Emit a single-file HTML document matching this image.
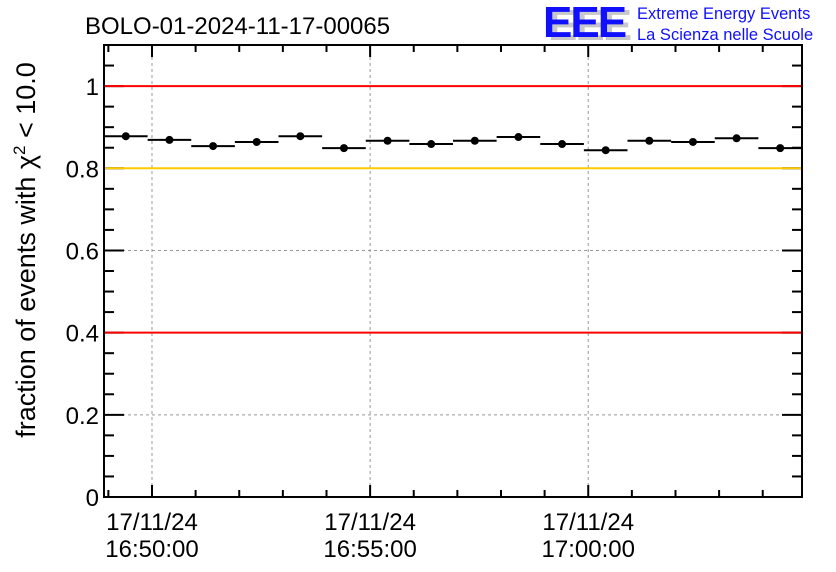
<!DOCTYPE html>
<html><head><meta charset="utf-8"><style>
body{margin:0;background:#fff;}
svg{display:block;font-family:"Liberation Sans",sans-serif;}
</style></head><body>
<svg id="c" width="836" height="572">
<text x="85" y="34" font-size="24">BOLO-01-2024-11-17-00065</text>
<g>
<text x="548" y="40" font-size="44" font-weight="bold" fill="#c8c8c8" letter-spacing="-2">EEE</text>
<text x="543" y="37" font-size="44" font-weight="bold" fill="#1010ff" letter-spacing="-2">EEE</text>
<text x="637" y="19" font-size="16.5" fill="#1010ff">Extreme Energy Events</text>
<text x="637" y="40" font-size="16.5" fill="#1010ff">La Scienza nelle Scuole</text>
</g>
<text transform="translate(35,250) rotate(-90)" text-anchor="middle" font-size="27">fraction of events with χ<tspan dy="-10" font-size="17">2</tspan><tspan dy="10"> &lt; 10.0</tspan></text>
<g id="plot"></g>
</svg>
<script>
const values=[0.878,0.869,0.854,0.864,0.878,0.849,0.867,0.859,0.867,0.876,0.859,0.844,0.867,0.864,0.873,0.849];
const yTicks=[0,0.2,0.4,0.6,0.8,1];
const yTickLabels=["0","0.2","0.4","0.6","0.8","1"];
const xTickMinutes=[1.1,6.1,11.1];
const xTickLabels=[["17/11/24","16:50:00"],["17/11/24","16:55:00"],["17/11/24","17:00:00"]];
const refLines=[1.0,0.8,0.4];
const refColors=["#ff0000","#ffcc00","#ff0000"];

const L=104,R=802,T=45,B=497,YMAX=1.1,XMAX=16;
const sx=m=>L+(R-L)*m/XMAX;
const sy=v=>B-(B-T)*v/YMAX;
const NS="http://www.w3.org/2000/svg";
const g=document.getElementById('plot');
function mk(t,a,p){const e=document.createElementNS(NS,t);for(const k in a)e.setAttribute(k,a[k]);(p||g).appendChild(e);return e;}

xTickMinutes.forEach(m=>{const e=mk('line',{x1:sx(m),x2:sx(m),y1:T,y2:B,stroke:'#999','stroke-dasharray':'3,3'});

});
yTicks.slice(1,5).forEach(v=>{const e=mk('line',{x1:L,x2:R,y1:sy(v),y2:sy(v),stroke:'#999','stroke-dasharray':'3,3'});

});
for(let k=0;k<=22;k++){const v=k*0.05,y=sy(v),maj=k%4==0,len=maj?20:10;
mk('line',{x1:L,x2:L+len,y1:y,y2:y,stroke:'#000','stroke-width':2});
mk('line',{x1:R,x2:R-len,y1:y,y2:y,stroke:'#000','stroke-width':2});}
refLines.forEach((v,i)=>{const e=mk('line',{x1:L,x2:R,y1:sy(v),y2:sy(v),stroke:refColors[i],'stroke-width':2});

});
yTicks.forEach((v,i)=>{const e=mk('text',{x:L-5,y:sy(v)+9,'text-anchor':'end','font-size':24});e.textContent=yTickLabels[i];

});
for(let k=0;k<=15;k++){const m=k+0.1,x=sx(m),maj=(k%5==1),len=maj?12:7;
mk('line',{x1:x,x2:x,y1:B,y2:B-len,stroke:'#000','stroke-width':2});
mk('line',{x1:x,x2:x,y1:T,y2:T+len,stroke:'#000','stroke-width':2});}
xTickMinutes.forEach((m,i)=>{const e=mk('text',{x:sx(m),y:530,'font-size':24,'text-anchor':'middle'});


mk('tspan',{x:sx(m),dy:0},e).textContent=xTickLabels[i][0];
mk('tspan',{x:sx(m),dy:27},e).textContent=xTickLabels[i][1];});
values.forEach((v,i)=>{const y=sy(v);
const h=mk('line',{x1:sx(i),x2:sx(i+1),y1:y,y2:y,stroke:'#000','stroke-width':2});


const c=mk('circle',{cx:sx(i+0.5),cy:y,r:4,fill:'#000'});

});
const f=mk('rect',{x:L,y:T,width:R-L,height:B-T,fill:'none',stroke:'#000','stroke-width':2});


</script>
</body></html>
